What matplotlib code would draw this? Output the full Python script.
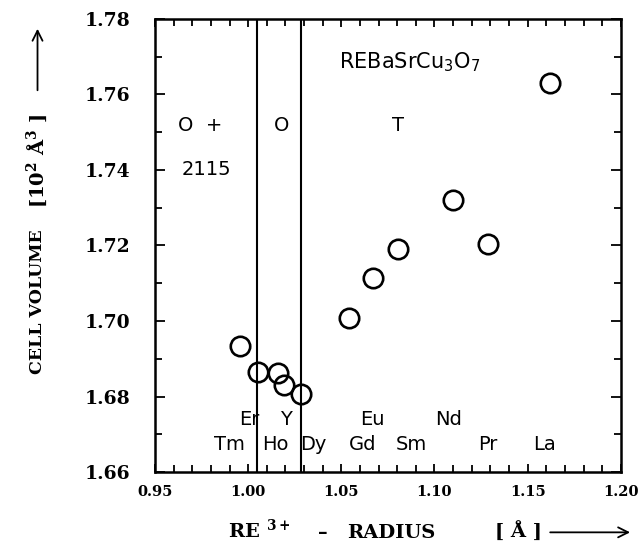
import matplotlib
matplotlib.use('Agg')
import matplotlib.pyplot as plt
from matplotlib.ticker import MultipleLocator

plt.rcParams['mathtext.fontset'] = 'dejavuserif'

# Rare-earth ionic radius (Angstrom) vs. cell volume (10^2 A^3)
elements = ['Tm', 'Er', 'Ho', 'Y', 'Dy', 'Gd', 'Eu', 'Sm', 'Nd', 'Pr', 'La']
radius = [0.9956, 1.0051, 1.0161, 1.0194, 1.0283, 1.0541, 1.0671, 1.0805, 1.1100, 1.1285, 1.1619]
volume = [1.6934, 1.6866, 1.6863, 1.6830, 1.6807, 1.7007, 1.7113, 1.7190, 1.7321, 1.7203, 1.7631]

# phase boundaries (O+2115 | O | T)
boundaries = [1.005, 1.0285]

# element labels: two rows under the data
label_row = {'Er': 1.6738, 'Y': 1.6738, 'Eu': 1.6738, 'Nd': 1.6738,
             'Tm': 1.6672, 'Ho': 1.6672, 'Dy': 1.6672, 'Gd': 1.6672,
             'Sm': 1.6672, 'Pr': 1.6672, 'La': 1.6672}
label_x = {'Er': 1.0005, 'Y': 1.0204, 'Eu': 1.0665, 'Nd': 1.1076,
           'Tm': 0.9902, 'Ho': 1.0145, 'Dy': 1.0348, 'Gd': 1.0616,
           'Sm': 1.0876, 'Pr': 1.1287, 'La': 1.1593}

fig = plt.figure(figsize=(6.38, 5.41), dpi=100)
ax = fig.add_axes([0.243, 0.1275, 0.730, 0.8375])

ax.plot(radius, volume, 'o', ms=14, mfc='none', mec='black', mew=1.9)
for b in boundaries:
    ax.axvline(b, color='black', lw=1.5)

txt = dict(family='DejaVu Sans', fontsize=14, ha='center', va='center')
for el in elements:
    ax.text(label_x[el], label_row[el], el, **txt)

ax.text(0.9745, 1.7518, 'O  +', **txt)
ax.text(0.9775, 1.7400, '2115', **txt)
ax.text(1.0178, 1.7518, 'O', **txt)
ax.text(1.0802, 1.7518, 'T', **txt)
ax.text(1.0865, 1.7686, r'REBaSrCu$_\mathsf{3}$O$_\mathsf{7}$',
        family='DejaVu Sans', fontsize=15, ha='center', va='center')

ax.set_xlim(0.95, 1.20)
ax.set_ylim(1.66, 1.78)
ax.xaxis.set_major_locator(MultipleLocator(0.05))
ax.xaxis.set_minor_locator(MultipleLocator(0.01))
ax.yaxis.set_major_locator(MultipleLocator(0.02))
ax.yaxis.set_minor_locator(MultipleLocator(0.01))
ax.xaxis.set_major_formatter(plt.FormatStrFormatter('%.2f'))
ax.yaxis.set_major_formatter(plt.FormatStrFormatter('%.2f'))
ax.tick_params(which='both', direction='in', top=True, right=True, width=1.3)
ax.tick_params(which='major', length=6)
ax.tick_params(which='minor', length=5)
ax.tick_params(axis='y', which='major', length=7, pad=18)
ax.tick_params(axis='x', which='major', pad=9)
for lab in ax.get_yticklabels():
    lab.set_fontfamily('DejaVu Serif')
    lab.set_fontweight('bold')
    lab.set_fontsize(13.5)
for lab in ax.get_xticklabels():
    lab.set_fontfamily('DejaVu Serif')
    lab.set_fontweight('bold')
    lab.set_fontsize(10.5)
for s in ax.spines.values():
    s.set_linewidth(1.8)

arrow = dict(arrowstyle='->', lw=1.3, color='black', mutation_scale=18)
serif = dict(family='DejaVu Serif', fontweight='bold', fontsize=14)

# x axis title, laid out piece by piece
fig.text(0.357, 0.0055, r'RE $^{\mathbf{3+}}$', ha='left', va='baseline', **serif)
fig.text(0.506, 0.0055, '–', ha='center', va='baseline', **serif)
fig.text(0.544, 0.0055, 'RADIUS', ha='left', va='baseline', **serif)
fig.text(0.776, 0.0055, '[ Å ]', ha='left', va='baseline', **serif)
ax.annotate('', xy=(0.992, 0.016), xytext=(0.858, 0.016), xycoords='figure fraction',
            textcoords='figure fraction', arrowprops=arrow, annotation_clip=False)

# y axis title
yserif = dict(family='DejaVu Serif', fontweight='bold', fontsize=12.5)
fig.text(0.0588, 0.442, 'CELL VOLUME', rotation=90, ha='center', va='center', **yserif)
fig.text(0.0588, 0.702, r'[10$^{\mathbf{2}}$ Å$^{\mathbf{3}}$ ]', rotation=90,
         ha='center', va='center', family='DejaVu Serif', fontweight='bold', fontsize=14)
ax.annotate('', xy=(0.0588, 0.952), xytext=(0.0588, 0.828), xycoords='figure fraction',
            textcoords='figure fraction', arrowprops=arrow, annotation_clip=False)

fig.savefig('out.png', dpi=100)
